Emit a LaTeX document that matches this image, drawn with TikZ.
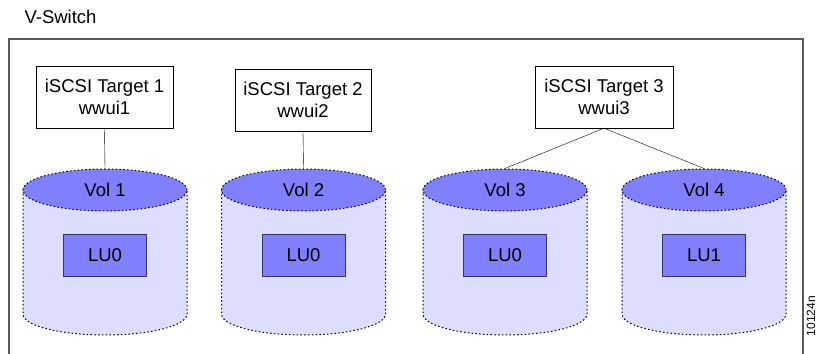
\documentclass[tikz,border=0pt]{standalone}
\usepackage{fontspec}
\setmainfont{Liberation Sans}
\usepackage{tikz}
\usetikzlibrary{shapes.geometric}
\usepackage{xcolor}
\definecolor{volTop}{RGB}{128, 128, 255}
\definecolor{volBody}{RGB}{221, 221, 255}
\definecolor{luEdge}{RGB}{51, 51, 102}
\definecolor{frameGray}{RGB}{90, 90, 90}

\begin{document}
\begin{tikzpicture}[x=1pt, y=1pt, font=\fontsize{18.5}{21.5}\selectfont,
    tgtbox/.style={draw, thin, fill=white, minimum width=137pt, minimum height=62pt, align=center, inner sep=0pt},
    volcap/.style={ellipse, draw, fill=volTop, minimum width=164pt, minimum height=42pt, inner sep=0pt, dash pattern=on 1.5pt off 2.3pt, line width=1pt},
    volline/.style={dash pattern=on 1.5pt off 2.3pt, line width=1pt},
    lubox/.style={draw=luEdge, fill=volTop, line width=0.8pt, minimum width=83pt, minimum height=42pt, inner sep=0pt}]
  \useasboundingbox (0,0) rectangle (818,353);

  % V-Switch frame (open at the bottom)
  \draw[frameGray, line width=1.5pt] (9,-2) -- (9,314) -- (803,314) -- (803,-2);
  \node[anchor=west] (vsw) at (21,336) {V-Switch};

  % Targets
  \node[tgtbox] (t1) at (104.5,256) {iSCSI Target 1\\wwui1};
  \node[tgtbox, minimum width=136pt] (t2) at (303,253) {iSCSI Target 2\\wwui2};
  \node[tgtbox, minimum width=138pt] (t3) at (604,256) {iSCSI Target 3\\wwui3};

  % Volumes: body first, then the cap on top
  \foreach \cx/\n/\lu in {105/1/0, 303.5/2/0, 505/3/0, 704/4/1} {
    \fill[volBody] (\cx-82,163) -- (\cx-82,39)
      arc[start angle=180, end angle=360, x radius=82pt, y radius=21pt] -- (\cx+82,163) -- cycle;
    \draw[volline] (\cx-82,163) -- (\cx-82,39)
      arc[start angle=180, end angle=360, x radius=82pt, y radius=21pt] -- (\cx+82,163);
    \node[volcap] (v\n) at (\cx,163) {Vol \n};
    \node[lubox] (lu\n) at (\cx,98) {LU\lu};
  }

  % Links
  \draw (t1.south) -- (v1.north);
  \draw (t2.south) -- (v2.north);
  \draw (t3.south) -- (v3.north);
  \draw (t3.south) -- (v4.north);

  \node[rotate=90, font=\fontsize{12}{14}\selectfont] (fig) at (811,37) {10124n};
\end{tikzpicture}
\end{document}
